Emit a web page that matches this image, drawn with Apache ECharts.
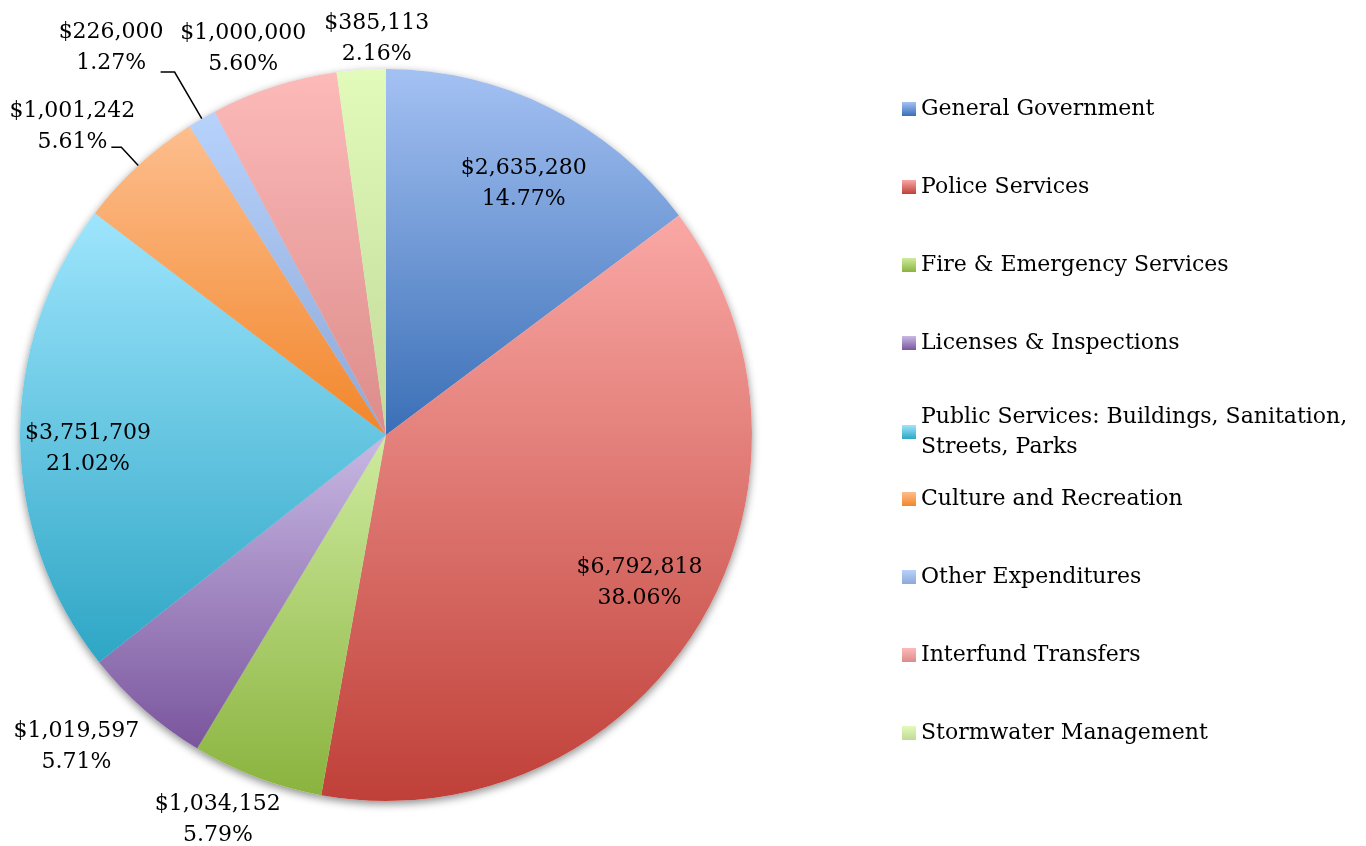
<!DOCTYPE html>
<html>
<head>
<meta charset="utf-8">
<script src="https://cdn.jsdelivr.net/npm/echarts@6/dist/echarts.min.js"></script>
<style>
html,body{margin:0;padding:0;background:#ffffff;}
#chart{width:1366px;height:846px;}
</style>
</head>
<body>
<div id="chart"></div>
<script>
// ---- data ----
const categories = [
  'General Government',
  'Police Services',
  'Fire & Emergency Services',
  'Licenses & Inspections',
  'Public Services: Buildings, Sanitation, Streets, Parks',
  'Culture and Recreation',
  'Other Expenditures',
  'Interfund Transfers',
  'Stormwater Management'
];
const values = [2635280, 6792818, 1034152, 1019597, 3751709, 1001242, 226000, 1000000, 385113];

// ---- styles ----
const topColors    = ['#A4C1F3', '#FAA8A5', '#CFEBA0', '#C8B9E4', '#9EE5FD', '#FDBE8E', '#B7D2FB', '#FCBAB9', '#E2FBBA'];
const bottomColors = ['#3A6FB6', '#BF4038', '#8AB33E', '#7A559D', '#2EA6C5', '#F2862A', '#8EA8D8', '#DC8C8A', '#C2D998'];
const labelInside    = [true, true, false, false, true, false, false, false, false];
const labelLineShown = [false, false, false, false, false, true, true, false, false];
const labelLineLen   = [15, 15, 15, 15, 15, 25, 54, 15, 15];
const labelLineLen2  = [15, 15, 15, 15, 15, 10, 14, 15, 15];
const labelShift     = [[7, 10], [5, -6], [49, 28], [25, 26], [-6, 11], [29, -20], [8, -24], [57, -24], [89, -16]];

const total = values.reduce((a, b) => a + b, 0);
const FONT = 'DejaVu Serif';

function grad(i) {
  return {
    type: 'linear', x: 0, y: 0, x2: 0, y2: 1,
    colorStops: [{offset: 0, color: topColors[i]}, {offset: 1, color: bottomColors[i]}]
  };
}

const mainData = values.map((v, i) => ({name: categories[i], value: v, itemStyle: {color: grad(i)}}));
const shadowData = values.map((v, i) => ({name: categories[i], value: v}));
const labelData = values.map((v, i) => ({
  name: categories[i],
  value: v,
  label: {position: labelInside[i] ? 'inside' : 'outside'},
  labelLine: {show: labelLineShown[i], length: labelLineLen[i], length2: labelLineLen2[i]}
}));

const legendText = {fontFamily: FONT, fontSize: 22, lineHeight: 30, color: '#000'};
const legendCommon = {
  orient: 'vertical', left: 902, padding: 0, itemGap: 48,
  itemWidth: 14, itemHeight: 14, icon: 'rect', selectedMode: false,
  textStyle: legendText,
  formatter: function (name) { return name.replace('Sanitation, ', 'Sanitation,\n'); }
};

const chart = echarts.init(document.getElementById('chart'), null, {renderer: 'canvas'});
chart.setOption({
  animation: false,
  backgroundColor: '#ffffff',
  legend: [
    Object.assign({}, legendCommon, {
      top: 94,
      data: categories.slice(0, 5).map((c, i) => i === 4 ? {name: c, textStyle: {height: 30}} : {name: c})
    }),
    Object.assign({}, legendCommon, {
      top: 484,
      data: categories.slice(5).map(c => ({name: c}))
    })
  ],
  series: [
    {
      type: 'pie', name: 'main', z: 2,
      center: [386, 435], radius: 366, startAngle: 90, clockwise: true,
      silent: true, label: {show: false}, labelLine: {show: false},
      emphasis: {disabled: true},
      data: mainData
    },
    {
      type: 'pie', name: 'shadow', z: 1,
      center: [386, 435], radius: 366, startAngle: 90, clockwise: true,
      silent: true, label: {show: false}, labelLine: {show: false},
      emphasis: {disabled: true},
      itemStyle: {color: '#ffffff', shadowBlur: 8, shadowOffsetY: 3, shadowColor: 'rgba(0,0,0,0.45)'},
      data: shadowData
    },
    {
      type: 'pie', name: 'labels', z: 3,
      center: [386, 435], radius: [212, 366], startAngle: 90, clockwise: true,
      silent: true, avoidLabelOverlap: false,
      emphasis: {disabled: true},
      itemStyle: {color: 'rgba(0,0,0,0)'},
      label: {
        show: true, color: '#000', fontFamily: FONT, fontSize: 22, lineHeight: 31,
        formatter: function (p) {
          return '$' + p.value.toLocaleString('en-US') + '\n' + (p.value / total * 100).toFixed(2) + '%';
        }
      },
      labelLine: {lineStyle: {color: '#000', width: 1.5}},
      labelLayout: function (p) {
        const s = labelShift[p.dataIndex];
        const r = p.labelRect;
        return {
          x: r.x + r.width / 2 + s[0],
          y: r.y + r.height / 2 + s[1],
          align: 'center', verticalAlign: 'middle',
          labelLinePoints: p.labelLinePoints
        };
      },
      data: labelData
    }
  ]
});
</script>
</body>
</html>
